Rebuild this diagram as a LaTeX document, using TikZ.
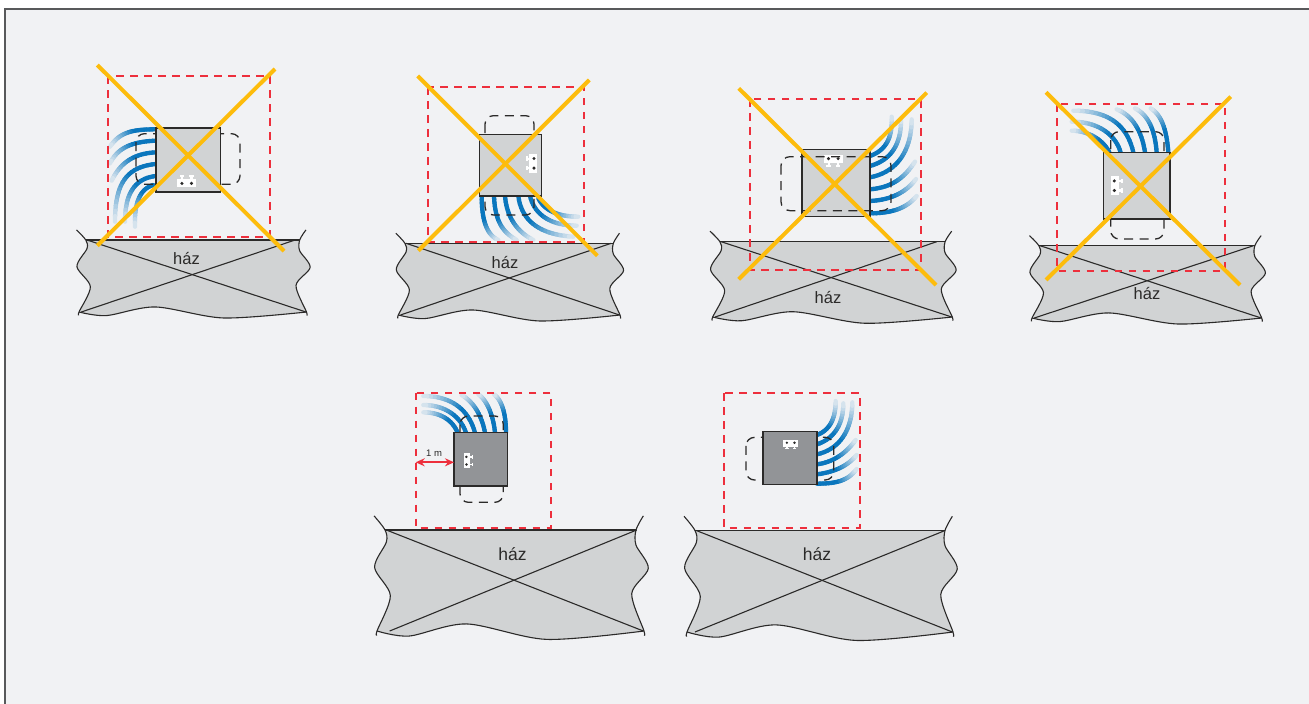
\documentclass[tikz,border=0pt]{standalone}
\usepackage{fontspec}
\setmainfont{Liberation Sans}
\usetikzlibrary{arrows.meta}
\definecolor{panel}{HTML}{F1F2F4}
\definecolor{framec}{HTML}{58595B}
\definecolor{pipeblue}{HTML}{0A76BD}
\definecolor{housefill}{HTML}{D1D3D4}
\definecolor{devlight}{HTML}{D1D3D4}
\definecolor{devdark}{HTML}{929497}
\definecolor{outline}{HTML}{2B2A29}
\definecolor{zonered}{HTML}{ED2F3C}
\definecolor{banyellow}{HTML}{FDBC0C}
\tikzset{
  pipeseg/.style={line width=4.3pt,line cap=round},
  zonebox/.style={draw=zonered,line width=1.8pt,dash pattern=on 7.5pt off 6.5pt},
  banline/.style={draw=banyellow,line width=4pt},
  servicebox/.style={draw=outline,line width=1.3pt,rounded corners=8.5pt,dash pattern=on 9pt off 6.5pt},
  devicebox/.style={draw=outline,line width=1.4pt},
  houseline/.style={draw=outline,line width=1.1pt},
  hazlabel/.style={text=outline,inner sep=0pt,font=\fontsize{16.5}{18}\selectfont},
  hazlabelbig/.style={text=outline,inner sep=0pt,font=\fontsize{17.5}{19}\selectfont},
  meterlabel/.style={text=outline,inner sep=0pt,font=\fontsize{9.5}{11}\selectfont}
}
\newcommand\mypipe[8]{%
  \foreach \i in {0,...,19}{%
    \pgfmathsetmacro\ta{\i/20}%
    \pgfmathsetmacro\tb{(\i+1)/20}%
    \pgfmathsetmacro\xa{(1-\ta)^3*#1+3*(1-\ta)^2*\ta*#3+3*(1-\ta)*\ta^2*#5+\ta^3*#7}%
    \pgfmathsetmacro\ya{(1-\ta)^3*#2+3*(1-\ta)^2*\ta*#4+3*(1-\ta)*\ta^2*#6+\ta^3*#8}%
    \pgfmathsetmacro\xb{(1-\tb)^3*#1+3*(1-\tb)^2*\tb*#3+3*(1-\tb)*\tb^2*#5+\tb^3*#7}%
    \pgfmathsetmacro\yb{(1-\tb)^3*#2+3*(1-\tb)^2*\tb*#4+3*(1-\tb)*\tb^2*#6+\tb^3*#8}%
    \pgfmathtruncatemacro\pct{\i<9?100:100-(\i-8)*8}%
    \draw[pipeseg,color=pipeblue!\pct!panel] (\xa,\ya) -- (\xb,\yb);
  }%
}
% #1 xl, #2 xr, #3 ytop, #4 ybottom, #5 start of rising diagonal at the bottom, #6 its end at the top
\newcommand\myhouse[6]{%
  \pgfmathsetmacro\hw{#2-#1}\pgfmathsetmacro\hh{#4-#3}%
  \begin{scope}[shift={(#1,#3)},xscale=\hw,yscale=\hh]
    \fill[housefill] plot[smooth] coordinates {(0.03,0)(0.035,0.12)(-0.009,0.37)(0.05,0.65)(0,1)}
      -- plot[smooth] coordinates {(0,1)(0.12,1.05)(0.335,0.93)(0.635,1.083)(1,1)}
      -- plot[smooth] coordinates {(1,1)(0.954,0.63)(1.016,0.38)(0.97,0.15)(0.97,0)} -- cycle;
    \draw[houseline] plot[smooth] coordinates {(-0.011,-0.14)(0.03,0)(0.035,0.12)(-0.009,0.37)(0.05,0.65)(0,1)(0,1.04)};
    \draw[houseline] plot[smooth] coordinates {(0.9975,-0.14)(0.97,0)(0.97,0.15)(1.016,0.38)(0.954,0.63)(1,1)(1,1.04)};
    \draw[houseline] plot[smooth] coordinates {(0,1)(0.12,1.05)(0.335,0.93)(0.635,1.083)(1,1)};
    \draw[houseline] (0.03,0) -- (0.97,0);
    \draw[houseline] (0.035,0) -- (0.9975,1);
    \draw[houseline] (#5,1.0) -- (#6,0);
  \end{scope}%
}
% #1 x, #2 y, #3 rotation, #4 scale
\newcommand\myoutlet[4]{%
  \begin{scope}[shift={(#1,#2)},rotate=#3,scale=#4]
    \fill[white] (-9.3,-4) rectangle (9.3,4);
    \fill[white] (-7,-7.5) rectangle (-2.5,-5.8);
    \fill[white] (2.5,-7.5) rectangle (7,-5.8);
    \fill[white] (-5.8,-6) rectangle (-3.7,-4);
    \fill[white] (3.7,-6) rectangle (5.8,-4);
    \fill[outline] (-4.8,0.7) circle (1.7);
    \fill[outline] (4.8,0.7) circle (1.7);
  \end{scope}%
}
\begin{document}
\begin{tikzpicture}[x=1pt,y=-1pt]
\useasboundingbox (0,0) rectangle (1309,704);
\fill[white] (0,0) rectangle (1309,704);
\fill[panel] (5,9) rectangle (1309,704);
\draw[framec,line width=1.7pt] (5,704) -- (5,9) -- (1309,9);

% --- houses
\myhouse{79}{306.5}{240}{312}{0.01}{0.95}
\myhouse{398.3}{620}{243.3}{315}{0.01}{0.96}
\myhouse{712.7}{952.3}{241.7}{317}{0.01}{0.935}
\myhouse{1032}{1261.7}{245.7}{318}{0.01}{0.964}
\myhouse{377}{644}{530}{631}{0.0475}{0.9725}
\myhouse{687}{953}{530.5}{632}{0.03}{0.97}
\node[hazlabel] (haz1) at (186.5,258.5) {ház};
\node[hazlabel] (haz2) at (505,263) {ház};
\node[hazlabel] (haz3) at (828,298) {ház};
\node[hazlabel] (haz4) at (1147,294) {ház};
\node[hazlabelbig] (haz5) at (512.5,554) {ház};
\node[hazlabelbig] (haz6) at (817,554) {ház};

% --- unit 1
\begin{scope}[shift={(60,50)},scale=0.33333]
\mypipe{288}{238}{220}{238}{180}{245}{150}{290}
\mypipe{288}{272}{220}{275}{175}{290}{150}{340}
\mypipe{288}{307}{220}{310}{180}{340}{155}{392}
\mypipe{288}{342}{200}{350}{165}{400}{165}{515}
\mypipe{288}{378}{225}{385}{195}{430}{195}{515}
\mypipe{280}{405}{245}{415}{222}{450}{225}{530}
\draw[servicebox] (228,251) rectangle (540,403);
\draw[devicebox,fill=devlight] (288,234) rectangle (481,426);
\end{scope}
\myoutlet{186.7}{182.7}{0}{1}
\draw[zonebox] (107.7,76) rectangle (270,236.7);
\draw[banline] (97.3,65) -- (284,251);
\draw[banline] (275,69) -- (97.3,245.7);

% --- unit 2
\begin{scope}[shift={(390,60)},scale=0.33333]
\mypipe{275}{408}{275}{480}{290}{525}{325}{540}
\mypipe{312}{408}{315}{480}{335}{515}{380}{540}
\mypipe{345}{408}{350}{470}{380}{515}{430}{540}
\mypipe{385}{408}{395}{490}{460}{525}{550}{530}
\mypipe{420}{408}{435}{470}{490}{497}{560}{497}
\mypipe{445}{415}{465}{455}{510}{470}{565}{470}
\draw[servicebox] (285,167) rectangle (432,465);
\draw[devicebox,fill=devlight] (268,224) rectangle (455,408);
\end{scope}
\myoutlet{533.3}{163.3}{90}{1}
\draw[zonebox] (427.7,87.3) rectangle (584,242);
\draw[banline] (417.7,76) -- (597.3,255.7);
\draw[banline] (589.3,80) -- (418.3,250.7);

% --- unit 3
\begin{scope}[shift={(700,70)},scale=0.33333]
\mypipe{510}{258}{560}{240}{578}{200}{575}{140}
\mypipe{510}{288}{575}{270}{605}{220}{603}{145}
\mypipe{510}{322}{600}{305}{635}{230}{635}{148}
\mypipe{510}{358}{580}{352}{615}{320}{645}{275}
\mypipe{510}{393}{575}{390}{620}{365}{648}{327}
\mypipe{510}{430}{575}{430}{620}{415}{650}{378}
\draw[devicebox,fill=devlight] (306,238) rectangle (510,440);
\end{scope}
\myoutlet{833.3}{159.3}{180}{1}
\begin{scope}[shift={(700,70)},scale=0.33333]
\draw[servicebox,rounded corners=9pt] (243,260) rectangle (573,422);
\end{scope}
\draw[zonebox] (750,99.3) rectangle (921,270);
\draw[banline] (738.7,88.3) -- (936,285);
\draw[banline] (926.7,92.7) -- (738.7,279.3);

% --- unit 4
\begin{scope}[shift={(1020,80)},scale=0.33333]
\mypipe{268}{217}{250}{180}{205}{152}{155}{152}
\mypipe{302}{217}{285}{160}{230}{125}{155}{125}
\mypipe{340}{217}{320}{130}{260}{92}{160}{92}
\mypipe{375}{217}{365}{150}{335}{105}{290}{88}
\mypipe{410}{217}{405}{150}{385}{105}{345}{85}
\mypipe{445}{217}{440}{150}{425}{105}{392}{85}
\draw[servicebox] (272,155) rectangle (432,477);
\draw[devicebox,fill=devlight] (250,217) rectangle (450,417);
\end{scope}
\myoutlet{1115}{185.7}{-90}{1}
\draw[zonebox] (1057.3,104) rectangle (1225,270.7);
\draw[banline] (1046,92.3) -- (1240,285);
\draw[banline] (1230.7,96.7) -- (1046,280);

% --- unit 5
\begin{scope}[shift={(370,385)},scale=0.33333]
\mypipe{263}{143}{245}{100}{205}{82}{160}{82}
\mypipe{288}{143}{270}{90}{220}{60}{160}{60}
\mypipe{315}{143}{295}{70}{240}{33}{160}{33}
\mypipe{345}{143}{335}{90}{310}{50}{275}{30}
\mypipe{375}{143}{370}{90}{350}{45}{325}{28}
\mypipe{408}{143}{408}{85}{395}{45}{372}{28}
\draw[servicebox] (270,93) rectangle (400,352);
\draw[devicebox,fill=devdark] (252,143) rectangle (413,303);
\end{scope}
\myoutlet{467}{460.7}{-90}{0.8}
\draw[zonebox] (415.7,392.7) rectangle (551,527.7);
\coordinate (armL) at (415.7,462.3);
\coordinate (armR) at (454,462.3);
\draw[draw=zonered,line width=1.8pt,{Stealth[length=9pt,width=8pt]}-{Stealth[length=9pt,width=8pt]}] (armL) -- (armR);
\node[meterlabel] (meter) at (434,453.3) {1 m};

% --- unit 6
\begin{scope}[shift={(680,385)},scale=0.33333]
\mypipe{411}{150}{450}{135}{467}{100}{467}{48}
\mypipe{411}{178}{465}{160}{490}{115}{490}{55}
\mypipe{411}{208}{490}{190}{517}{120}{517}{52}
\mypipe{411}{238}{470}{230}{505}{195}{527}{165}
\mypipe{411}{268}{470}{260}{505}{240}{530}{210}
\mypipe{411}{296}{475}{296}{505}{285}{530}{252}
\draw[servicebox] (198,157) rectangle (461,285);
\draw[devicebox,fill=devdark] (249,139) rectangle (411,299);
\end{scope}
\myoutlet{790.7}{443.3}{180}{0.8}
\draw[zonebox] (724.3,393.3) rectangle (860,527.7);
\end{tikzpicture}
\end{document}
